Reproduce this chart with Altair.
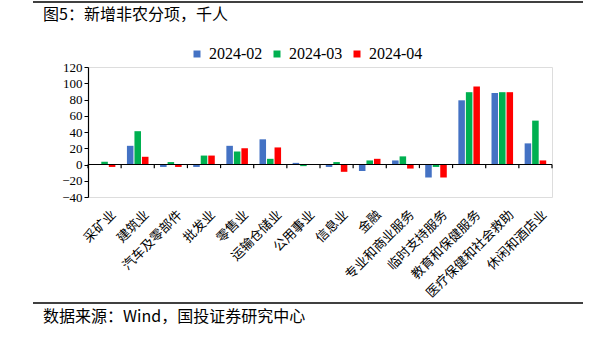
import altair as alt
import pandas as pd

categories = ["采矿业", "建筑业", "汽车及零部件", "批发业", "零售业", "运输仓储业", "公用事业",
              "信息业", "金融", "专业和商业服务", "临时支持服务", "教育和保健服务",
              "医疗保健和社会救助", "休闲和酒店业"]
series = ["2024-02", "2024-03", "2024-04"]
v_feb = [0, 23, -3, -3, 23, 31, 2, -3, -8, 5, -16, 79, 88, 26]
v_mar = [3.5, 41, 3, 11, 16, 7, -2, 3, 5, 10, -3, 89, 89, 54]
v_apr = [-3, 9.5, -3, 11, 20, 21, 0, -9, 7, -5, -16, 96, 89, 5]
colors = ["#4472C4", "#00B050", "#FF0000"]
y_ticks = [-40, -20, 0, 20, 40, 60, 80, 100, 120]
title_text = "图5：新增非农分项，千人"
source_text = "数据来源：Wind，国投证券研究中心"

rows = []
for s, vals in zip(series, [v_feb, v_mar, v_apr]):
    for c, v in zip(categories, vals):
        rows.append({"cat": c, "series": s, "value": v})
df = pd.DataFrame(rows)
cat_df = pd.DataFrame({"cat": categories})
last_df = pd.DataFrame({"cat": [categories[-1]]})

W, H = 464, 130
serif = "Liberation Serif"
cjk = "Noto Sans CJK SC"

xscale = alt.Scale(domain=categories, paddingInner=0, paddingOuter=0)
yscale = alt.Scale(domain=[-40, 120], nice=False)
xaxis = alt.Axis(title=None, domain=False, ticks=False, labelAngle=-45,
                 labelFont=cjk, labelFontSize=13, labelColor="#000",
                 labelPadding=11, labelOffset=5, labelLimit=200, labelOverlap=False)
yaxis = alt.Axis(title=None, values=y_ticks, grid=False, domainColor="#000",
                 tickColor="#000", tickSize=4, labelFont=serif, labelFontSize=13,
                 labelColor="#000", labelPadding=2, domainWidth=1.2,
                 labelOverlap=False, labelFlush=False)

bars = alt.Chart(df).mark_bar().encode(
    x=alt.X("cat:N", sort=categories, scale=xscale, axis=xaxis),
    xOffset=alt.XOffset("series:N", sort=series,
                        scale=alt.Scale(paddingInner=0.13, paddingOuter=0.77)),
    y=alt.Y("value:Q", scale=yscale, axis=yaxis),
    color=alt.Color("series:N", sort=series,
                    scale=alt.Scale(domain=series, range=colors),
                    legend=alt.Legend(title=None, orient="none", direction="horizontal",
                                      legendX=101, legendY=-21, symbolType="square",
                                      symbolSize=49, symbolStrokeWidth=0,
                                      labelFont=serif, labelFontSize=16, labelColor="#000",
                                      labelOffset=4, columnPadding=6, padding=0)),
)

zero = alt.Chart(cat_df.head(1)).mark_rule(color="#000", strokeWidth=1.2).encode(
    y=alt.YDatum(0, scale=yscale, axis=yaxis))

ticks = alt.Chart(cat_df).mark_rule(color="#000", strokeWidth=1.2).encode(
    x=alt.X("cat:N", sort=categories, bandPosition=0, scale=xscale, axis=xaxis),
    y=alt.YDatum(0, scale=yscale, axis=yaxis), y2=alt.Y2Datum(-4.5))
ticks_end = alt.Chart(last_df).mark_rule(color="#000", strokeWidth=1.2).encode(
    x=alt.X("cat:N", sort=categories, bandPosition=1, scale=xscale, axis=xaxis),
    y=alt.YDatum(0, scale=yscale, axis=yaxis), y2=alt.Y2Datum(-4.5))

title = alt.Chart(pd.DataFrame({"t": [title_text]})).mark_text(
    font=cjk, fontSize=16, align="left", baseline="middle", color="#000").encode(
    x=alt.value(-45), y=alt.value(-52), text="t:N")
source = alt.Chart(pd.DataFrame({"t": [source_text]})).mark_text(
    font=cjk, fontSize=16, align="left", baseline="middle", color="#000").encode(
    x=alt.value(-45), y=alt.value(250), text="t:N")
top_line = alt.Chart(pd.DataFrame({"t": [0]})).mark_rule(color="#000", strokeWidth=1.5).encode(
    x=alt.value(-55), x2=alt.value(495), y=alt.value(-65))
bottom_line = alt.Chart(pd.DataFrame({"t": [0]})).mark_rule(color="#000", strokeWidth=1.5).encode(
    x=alt.value(-55), x2=alt.value(495), y=alt.value(236))

chart = alt.layer(bars, zero, ticks, ticks_end, title, source, top_line, bottom_line).properties(
    width=W, height=H,
    autosize=alt.AutoSizeParams(type="none"),
    padding={"left": 88, "top": 67, "right": 45, "bottom": 144},
).configure_view(stroke=None).configure(background="white").configure_axisY(
    labelFont=serif, labelFontSize=13, labelOverlap=False
).configure_legend(labelFont=serif, labelFontSize=16)

chart.save("out.html", embed_options={"renderer": "svg", "actions": False})
